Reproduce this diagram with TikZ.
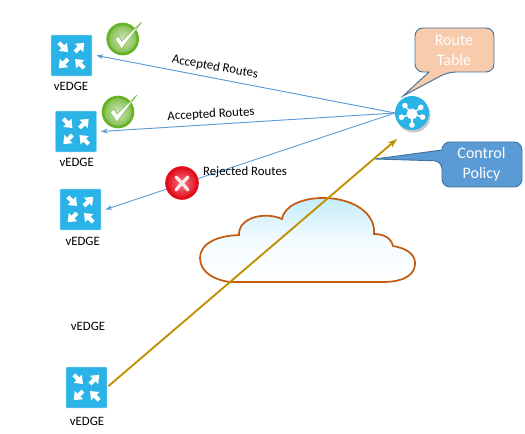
\documentclass[tikz,border=0pt]{standalone}
\usepackage{fontspec}
\setmainfont{Carlito}
\usepackage{tikz}
\usetikzlibrary{arrows.meta, calc}
\definecolor{myblue}{RGB}{91,155,213}
\definecolor{mycyan}{RGB}{41,179,231}
\definecolor{mygold}{RGB}{191,144,0}
\definecolor{mypeach}{RGB}{248,203,173}
\definecolor{myframe}{RGB}{65,113,156}
\definecolor{mycloud}{RGB}{197,90,17}
\definecolor{mysky}{RGB}{196,236,252}
\definecolor{mygreen}{RGB}{104,178,40}
\definecolor{myred}{RGB}{226,14,28}
\tikzset{
  router/.style={rectangle, fill=mycyan, draw=mycyan!60, line width=0.4pt,
    minimum size=30.5pt, inner sep=0pt, outer sep=0pt, rounded corners=0.6pt},
  devlabel/.style={font=\fontsize{9.6}{10}\selectfont, inner sep=0pt},
  routelabel/.style={font=\fontsize{9.6}{10}\selectfont, inner sep=0pt},
  calltext/.style={font=\fontsize{12}{15}\selectfont, align=center, text=white, inner sep=0pt},
  bluearrow/.style={-{Stealth[length=5pt,width=3.6pt]}, myblue, line width=0.7pt},
  goldarrow/.style={-{Stealth[length=7pt,width=5pt]}, mygold, line width=1.4pt},
  callframe/.style={draw=myframe, line width=0.7pt},
  okbadge/.style={circle, minimum size=22.5pt, inner sep=0pt, outer sep=0pt,
    draw=mygreen, line width=2pt, inner color=white!70!mygreen, outer color=mygreen!85},
  nobadge/.style={circle, minimum size=23pt, inner sep=0pt, outer sep=0pt,
    draw=myred, line width=2.2pt, inner color=myred!55, outer color=myred},
  hubnode/.style={circle, fill=mycyan, minimum size=25.5pt, inner sep=0pt, outer sep=0pt},
  pics/routericon/.style={code={
    % Four arrows
    \foreach \ang/\from/\to in {45/18/5, 135/5/18, 225/18/5, 315/5/18} {
      \draw[-{Triangle[length=5.5pt,width=8.5pt]}, white, line width=3pt]
        (\ang:\from) -- (\ang:\to);
    }
  }},
  pics/tickmark/.style={code={
    \filldraw[fill=white, draw=mygreen!80, line width=0.5pt]
      (-8,0) -- (-4,-3) -- (-1,2) -- (19,-17) -- (-1,10) -- cycle;
  }},
  pics/crossmark/.style={code={
    \draw[white!90!myred, line width=2.4pt, line cap=round] (-6,-6) .. controls (-2,-2) and (2,2) .. (6,7);
    \draw[white!90!myred, line width=2.4pt, line cap=round] (6,-6) .. controls (2,-2) and (-2,2) .. (-6,7);
  }}
}
\begin{document}
\begin{tikzpicture}[x=0.75pt, y=-0.75pt]
  \useasboundingbox (0,0) rectangle (525,434);

  % Cloud
  \draw[draw=mycloud, line width=1.3pt, top color=mysky, bottom color=white, middle color=white!80!mysky]
    (230,282) -- (383,282)
    .. controls (405,282) and (416,274) .. (415,262)
    .. controls (414,253) and (405,248) .. (393,246)
    .. controls (391,238) and (384,234) .. (374,234)
    .. controls (376,214) and (354,198) .. (323,198)
    .. controls (302,198) and (284,206) .. (282,219)
    .. controls (264,211) and (238,218) .. (239,235)
    .. controls (214,236) and (200,245) .. (200,258)
    .. controls (200,272) and (214,280) .. (230,282) -- cycle;

  % Devices
  \node[router] (rtone) at (71.5,55.5) {};
  \node[router] (rttwo) at (76,131.5) {};
  \node[router] (rtthree) at (80.5,209.5) {};
  \node[router] (rtfour) at (86.5,387.5) {};
  \foreach \rt in {rtone, rttwo, rtthree, rtfour} {
    \pic at (\rt) {routericon};
  }
  \node[devlabel] (lblone) at (71,86) {vEDGE};
  \node[devlabel] (lbltwo) at (76.7,162) {vEDGE};
  \node[devlabel] (lblthree) at (82.7,241) {vEDGE};
  \node[devlabel] (lblfree) at (88,326) {vEDGE};
  \node[devlabel] (lblfour) at (87,421) {vEDGE};

  % Hub
  \fill[black!22] (413.5,115.5) circle (17);
  \node[hubnode] (hub) at (412,113) {};
  \foreach \ang in {90, 16, -37, -130, 163} {
    \draw[white, line width=1pt] (hub.center) ++(0,1) -- ++(\ang:11);
    \fill[white] (hub.center) ++(0,1) ++(\ang:11) circle (2.8);
  }
  \fill[white] ($(hub.center)+(0,1)$) circle (5.5);

  % Routes
  \draw[bluearrow] (hub.west) -- ([xshift=3.5]rtone.east);
  \draw[bluearrow] (hub.west) -- ([xshift=3.5]rttwo.east);
  \draw[bluearrow] (hub.west) -- ([xshift=3.5]rtthree.east);
  \node[routelabel, rotate=-10] (accone) at (215,67) {Accepted Routes};
  \node[routelabel, rotate=3] (acctwo) at (211,114.5) {Accepted Routes};
  \node[routelabel] (rejone) at (245,172) {Rejected Routes};

  % Badges
  \node[okbadge] (okone) at (122.7,39) {};
  \pic at (okone) {tickmark};
  \node[okbadge] (oktwo) at (118,112) {};
  \pic at (oktwo) {tickmark};
  \node[nobadge] (noone) at (182,183) {};
  \pic at (noone) {crossmark};

  % Control path
  \coordinate (goldend) at (397,139);
  \draw[goldarrow, shorten <=1.5pt] (rtfour.east) -- (goldend);

  % Callouts
  \draw[callframe, fill=mypeach] (429,72) [rounded corners=6] -- (415,72) -- (415,28) -- (494,28) -- (494,72)
    -- (448,72) [sharp corners] -- (403,96) -- cycle;
  \node[calltext] (tabletext) at (454,50.5) {Route\\Table};
  \draw[callframe, fill=myblue] (442,150) [rounded corners=6] -- (442,142) -- (522,142) -- (522,187) -- (442,187)
    -- (442,161) [sharp corners] -- (375,159) -- cycle;
  \node[calltext] (policytext) at (481.5,164) {Control\\Policy};
\end{tikzpicture}
\end{document}
